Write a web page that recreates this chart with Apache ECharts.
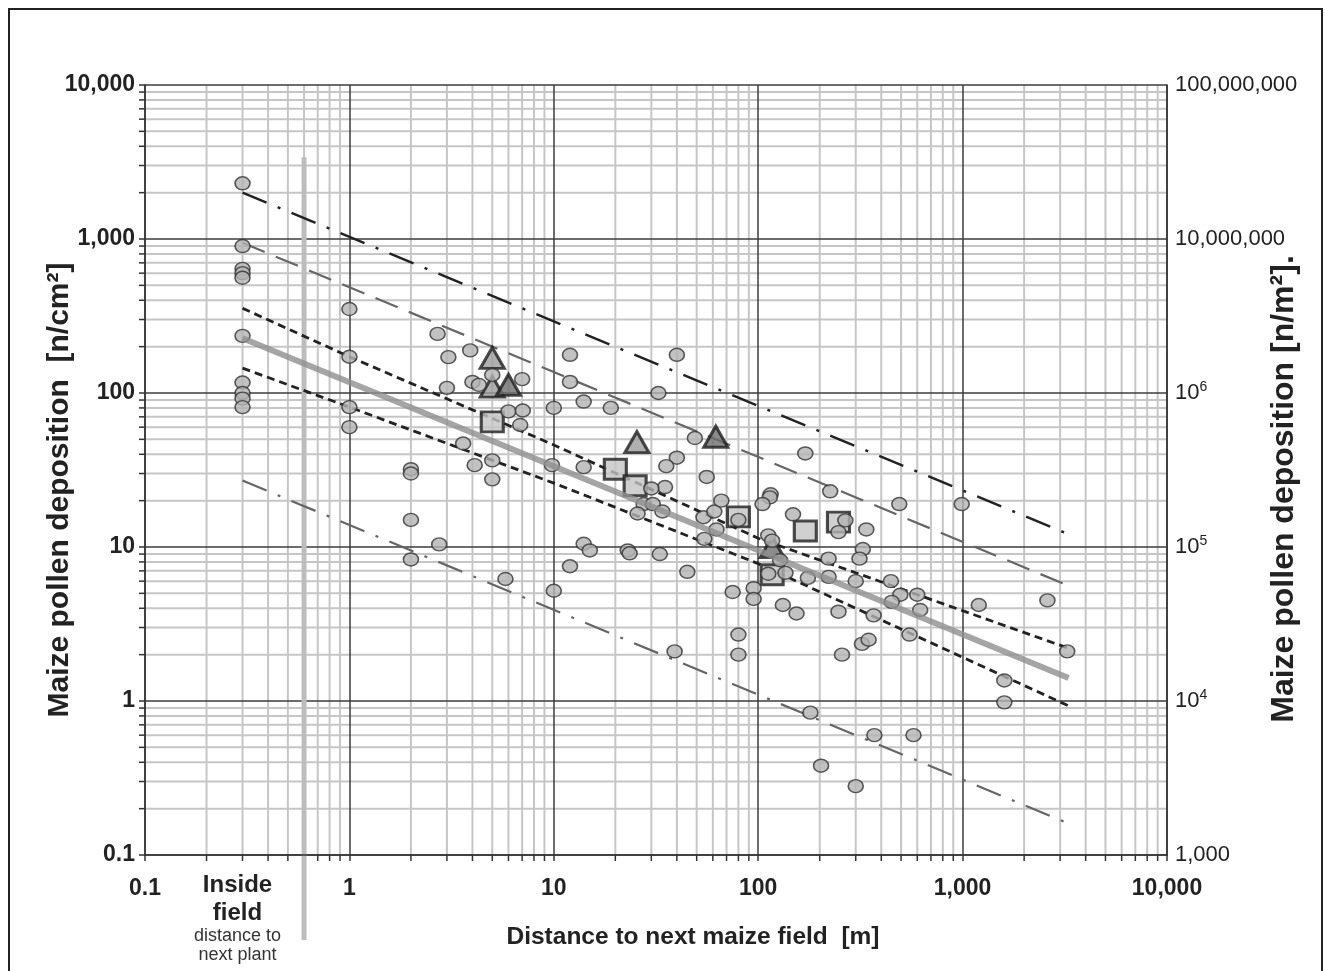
<!DOCTYPE html>
<html>
<head>
<meta charset="utf-8">
<script src="https://cdn.jsdelivr.net/npm/echarts@6/dist/echarts.min.js"></script>
<style>
  html, body { margin: 0; padding: 0; background: #fff; }
  #chart { width: 1325px; height: 971px; }
  #frame { position: absolute; left: 8px; top: 8px; width: 1311px; height: 980px; border: 2px solid #222; pointer-events: none; }
</style>
</head>
<body>
<div id="chart"></div>
<div id="frame"></div>
<script>
// tick labels
const xTickLabels = ['0.1', '1', '10', '100', '1,000', '10,000'];
const yTickLabels = ['0.1', '1', '10', '100', '1,000', '10,000'];
const y2TickLabels = ['1,000', '10{s|4}', '10{s|5}', '10{s|6}', '10,000,000', '100,000,000'];

// positions on the x axis
const insideX = 0.3;      // "inside field" column
const separatorX = 0.6;   // grey bar between inside field and distance
const separatorTop = 3400;

// measured points [distance m, pollen n/cm2]
const circles = [
  [0.3, 2300], [0.3, 900], [0.3, 640], [0.3, 600], [0.3, 560], [0.3, 235], [0.3, 117], [0.3, 100], [0.3, 92], [0.3, 81],
  [1, 351], [1, 172], [1, 81], [1, 60],
  [2, 32], [2, 30], [2, 15], [2, 8.3],
  [2.7, 242], [2.75, 10.4], [3.05, 171], [3.0, 108], [3.9, 189], [4.0, 118], [4.3, 113], [3.6, 47], [4.1, 34],
  [5, 131], [5, 36.5], [5, 27.5], [5.8, 6.2], [6, 76], [7, 123], [7.05, 77], [6.85, 62],
  [10, 80], [9.8, 34], [10, 5.2], [12, 177], [12, 118], [14, 88], [19, 80], [14, 33], [14, 10.5], [15, 9.5], [12, 7.5],
  [23, 9.5], [23.5, 9.1], [33, 9], [45, 6.9], [75, 5.1], [95, 5.4], [95, 4.6], [32.5, 100], [40, 177], [49, 51],
  [40, 38], [35.5, 33.5], [35, 24.5], [30, 24], [27.5, 19], [30.5, 19], [34, 17], [25.7, 16.5], [54, 15.6], [61, 17],
  [66, 20], [62.5, 13], [54.5, 11.3], [56, 28.5], [80, 15], [39, 2.1],
  [170, 40.5], [115, 22], [114, 21], [105, 19], [148, 16.3], [267, 14.9], [247, 12.5], [338, 13], [225, 23], [490, 19],
  [990, 19], [325, 9.7], [313, 8.4], [112, 11.9], [117, 11], [128, 8.2], [112, 6.7], [136, 6.8], [175, 6.3], [221, 6.4],
  [221, 8.4], [300, 6], [446, 6], [496, 4.9], [600, 4.9], [450, 4.4], [620, 3.9], [1200, 4.2], [3250, 2.1], [2600, 4.5],
  [1600, 1.36], [1600, 0.98], [550, 2.7], [367, 3.6], [247, 3.8], [154, 3.7], [132, 4.2], [80, 2.7], [80, 2.0],
  [322, 2.35], [347, 2.5], [257, 2.0], [180, 0.84], [370, 0.6], [575, 0.6], [203, 0.38], [300, 0.28]
];
const squares = [[5, 65], [20, 32], [25, 25], [80, 15.7], [170, 12.7], [247, 14.5], [117, 6.6]];
const trianglesLight = [[5, 169], [5, 110], [25.5, 48]];
const trianglesDark = [[6, 113], [62, 52], [117, 10]];

// fitted line and bands
const fitX = [0.3, 3300];
const fitY = [227, 1.41];
const bandX = [0.3, 1, 10, 100, 3300];
const bandUpperY = [355, 172, 46, 11.4, 2.2];
const bandLowerY = [145, 81, 26, 7.8, 0.93];
const longDashY = [944, 5.6];
const dashDotUpperY = [2000, 12.1];
const dashDotLowerY = [27, 0.16];

// minor grid values 2..9 per decade
const decades = [0.1, 1, 10, 100, 1000];
const minorValues = [];
decades.forEach(d => { for (let k = 2; k <= 9; k++) minorValues.push(+(d * k).toPrecision(3)); });

const font = '"Liberation Sans", Arial, Helvetica, sans-serif';
const chart = echarts.init(document.getElementById('chart'));

const pairs = (xs, ys) => xs.map((x, i) => [x, ys[i]]);
const lineSeries = (data, lineStyle, z) => ({
  type: 'line', data: data, showSymbol: false, symbol: 'none', silent: true,
  lineStyle: lineStyle, z: z || 3, animation: false
});

const ellipse = 'path://M0,6a7,6 0 1,0 14,0a7,6 0 1,0 -14,0z';
const titleStyle = { fontWeight: 'bold', fontFamily: font, fill: '#222', align: 'center', verticalAlign: 'middle' };

var options = {
  animation: false,
  backgroundColor: '#fff',
  textStyle: { fontFamily: font },
  grid: { left: 145, right: 158, top: 85, bottom: 116, outerBoundsMode: 'none' },
  graphic: [
    { type: 'text', x: 60, y: 490, rotation: Math.PI / 2, style: Object.assign({ text: 'Maize pollen deposition  [n/cm²]', fontSize: 30 }, titleStyle) },
    { type: 'text', x: 1284, y: 489, rotation: Math.PI / 2, style: Object.assign({ text: 'Maize pollen deposition [n/m²].', fontSize: 32 }, titleStyle) }
  ],
  xAxis: {
    type: 'log', logBase: 10, min: 0.1, max: 10000, z: 1,
    name: 'Distance to next maize field  [m]', nameLocation: 'middle', nameGap: 70,
    nameTextStyle: { fontSize: 24.5, fontWeight: 'bold', color: '#222', padding: [0, 0, 0, 74] },
    axisLine: { show: true, onZero: false, lineStyle: { color: '#333', width: 1.5 } },
    axisTick: { show: true, length: 6, lineStyle: { color: '#333', width: 1.5 } },
    axisLabel: {
      margin: 22, fontSize: 23, fontWeight: 'bold', color: '#222',
      formatter: v => xTickLabels[Math.round(Math.log10(v)) + 1]
    },
    splitLine: { show: true, lineStyle: { color: '#3c3c3c', width: 1.5 } }
  },
  yAxis: [{
    type: 'log', logBase: 10, min: 0.1, max: 10000, z: 1,
    axisLine: { show: true, onZero: false, lineStyle: { color: '#333', width: 1.5 } },
    axisTick: { show: true, length: 6, lineStyle: { color: '#333', width: 1.5 } },
    axisLabel: {
      margin: 10, fontSize: 23, fontWeight: 'bold', color: '#222',
      formatter: v => yTickLabels[Math.round(Math.log10(v)) + 1]
    },
    splitLine: { show: true, lineStyle: { color: '#3c3c3c', width: 1.5 } }
  }, {
    type: 'log', logBase: 10, min: 1000, max: 100000000, position: 'right', z: 1,
    axisLine: { show: true, onZero: false, lineStyle: { color: '#333', width: 1.5 } },
    axisTick: { show: false },
    axisLabel: {
      margin: 8, fontSize: 22, color: '#222',
      formatter: v => y2TickLabels[Math.round(Math.log10(v)) - 3],
      rich: { s: { fontSize: 14, verticalAlign: 'bottom', padding: [0, 0, 12, 0], color: '#222' } }
    },
    splitLine: { show: false }
  }],
  series: [
    {
      // minor vertical grid lines + bottom ticks
      type: 'custom', coordinateSystem: 'cartesian2d', z: 0, silent: true, clip: false,
      data: minorValues.map(v => [v, 1]),
      renderItem: (params, api) => {
        const v = api.value(0);
        const t = api.coord([v, 10000]);
        const b = api.coord([v, 0.1]);
        return { type: 'group', children: [
          { type: 'line', shape: { x1: t[0], y1: t[1], x2: b[0], y2: b[1] }, style: { stroke: '#c6c6c6', lineWidth: 2 } },
          { type: 'line', shape: { x1: b[0], y1: b[1], x2: b[0], y2: b[1] + 6 }, style: { stroke: '#333', lineWidth: 1.5 } }
        ] };
      }
    },
    {
      // minor horizontal grid lines + left ticks
      type: 'custom', coordinateSystem: 'cartesian2d', z: 0, silent: true, clip: false,
      data: minorValues.map(v => [1, v]),
      renderItem: (params, api) => {
        const v = api.value(1);
        const l = api.coord([0.1, v]);
        const r = api.coord([10000, v]);
        return { type: 'group', children: [
          { type: 'line', shape: { x1: l[0], y1: l[1], x2: r[0], y2: r[1] }, style: { stroke: '#c6c6c6', lineWidth: 2 } },
          { type: 'line', shape: { x1: l[0] - 6, y1: l[1], x2: l[0], y2: l[1] }, style: { stroke: '#333', lineWidth: 1.5 } }
        ] };
      }
    },
    {
      // grey separator bar and "inside field" caption
      type: 'custom', coordinateSystem: 'cartesian2d', z: 1, silent: true, clip: false,
      data: [[separatorX, separatorTop]],
      renderItem: (params, api) => {
        const t = api.coord([separatorX, separatorTop]);
        const b = api.coord([separatorX, 0.1]);
        const c = api.coord([insideX, 0.1]);
        return { type: 'group', children: [
          { type: 'line', shape: { x1: t[0], y1: t[1], x2: b[0], y2: b[1] + 85 }, style: { stroke: '#bdbdbd', lineWidth: 5 } },
          { type: 'text', x: c[0] - 5, y: c[1] + 16, style: { text: 'Inside\nfield', fontSize: 24, fontWeight: 'bold', fontFamily: font, fill: '#222', align: 'center', verticalAlign: 'top', lineHeight: 28 } },
          { type: 'text', x: c[0] - 5, y: c[1] + 72, style: { text: 'distance to\nnext plant', fontSize: 18, fontFamily: font, fill: '#333', align: 'center', verticalAlign: 'top', lineHeight: 19 } }
        ] };
      }
    },
    lineSeries(pairs(fitX, dashDotUpperY), { color: '#222', width: 2.5, type: [26, 12, 3, 12] }),
    lineSeries(pairs(fitX, longDashY), { color: '#666', width: 2.2, type: [24, 12] }),
    lineSeries(pairs(bandX, bandUpperY), { color: '#222', width: 2.8, type: [8, 5] }),
    lineSeries(pairs(bandX, bandLowerY), { color: '#222', width: 2.8, type: [8, 5] }),
    lineSeries(pairs(fitX, dashDotLowerY), { color: '#666', width: 2.2, type: [26, 12, 3, 12] }),
    {
      type: 'scatter', data: squares, symbol: 'rect', symbolSize: [22, 20], z: 4, silent: true,
      itemStyle: { color: '#c4c4c4', borderColor: '#1e1e1e', borderWidth: 3 }
    },
    {
      type: 'scatter', data: trianglesLight, symbol: 'triangle', symbolSize: [24, 21], z: 4, silent: true,
      itemStyle: { color: '#9c9c9c', borderColor: '#1e1e1e', borderWidth: 3 }
    },
    {
      type: 'scatter', data: trianglesDark, symbol: 'triangle', symbolSize: [24, 21], z: 4, silent: true,
      itemStyle: { color: '#6e6e6e', borderColor: '#1e1e1e', borderWidth: 3 }
    },
    {
      type: 'scatter', data: circles, symbol: ellipse, symbolSize: [15, 13], z: 5, silent: true,
      itemStyle: { color: '#b3b3b3', borderColor: '#333', borderWidth: 1.5 }
    },
    lineSeries(pairs(fitX, fitY), { color: '#8f8f8f', width: 6, opacity: 0.8 }, 6)
  ]
};
chart.setOption(options);
</script>
</body>
</html>
